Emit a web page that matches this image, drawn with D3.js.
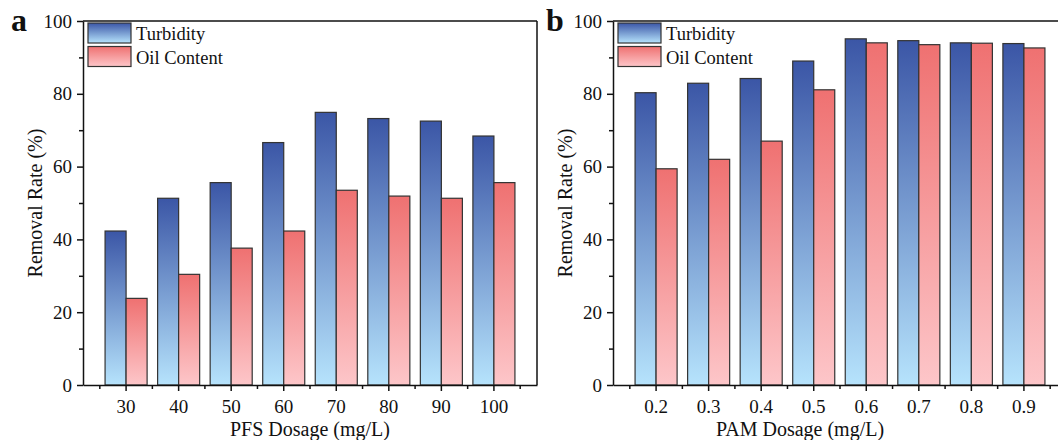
<!DOCTYPE html>
<meta charset="utf-8">
<script src="https://d3js.org/d3.v7.min.js"></script>
<style>
body{margin: 0; background: #fff;}
svg text {font-family: "Liberation Serif", "Times New Roman", serif; fill: #111;}
.tick text {font-size: 19px;}
.axis path, .axis line {stroke: #111; stroke-width: 1.5px;}
.bar {stroke: #333; stroke-width: 1.2px;}
</style>

<div id="vis"></div>

<script>

// Data
const pfsDosage = ["30", "40", "50", "60", "70", "80", "90", "100"];
const pfsTurbidity = [42.3, 51.3, 55.6, 66.6, 74.9, 73.2, 72.5, 68.4];
const pfsOil = [23.8, 30.4, 37.6, 42.3, 53.5, 51.9, 51.3, 55.6];

const pamDosage = ["0.2", "0.3", "0.4", "0.5", "0.6", "0.7", "0.8", "0.9"];
const pamTurbidity = [80.3, 82.9, 84.2, 89.0, 95.1, 94.6, 94.0, 93.8];
const pamOil = [59.4, 62.0, 67.0, 81.1, 94.0, 93.5, 93.9, 92.6];

const yTicks = [0, 20, 40, 60, 80, 100];
const yMinor = [10, 30, 50, 70, 90];
const seriesNames = ["Turbidity", "Oil Content"];

const W = 1058, H = 440;

let svg = d3.select("#vis")
  .append("svg")
  .attr("width", W)
  .attr("height", H);

// gradients (per bar, top dark -> bottom light)
let defs = svg.append("defs");
function grad(id, top, bottom) {
  let g = defs.append("linearGradient")
    .attr("id", id)
    .attr("x1", 0).attr("y1", 0).attr("x2", 0).attr("y2", 1);
  g.append("stop").attr("offset", "0%").attr("stop-color", top);
  g.append("stop").attr("offset", "100%").attr("stop-color", bottom);
}
grad("gBlue", "#3b56a6", "#b6e3fc");
grad("gRed", "#ef7171", "#fdc6c9");
const fills = ["url(#gBlue)", "url(#gRed)"];

function panel(opt) {
  const left = opt.left, top = 21, bottom = 385, width = 454;

  let x = d3.scaleBand()
    .domain(opt.cats)
    .range([left, left + width])
    .paddingInner(0)
    .paddingOuter(0.32);

  let y = d3.scaleLinear()
    .domain([0, 100])
    .range([bottom, top]);

  const bw = x.bandwidth() * 0.4;
  let g = svg.append("g");

  // bars
  [opt.s1, opt.s2].forEach((vals, k) => {
    g.selectAll(".bar-" + opt.id + k)
      .data(opt.cats.map((c, i) => ({c: c, v: vals[i]})))
      .enter().append("rect")
        .attr("class", "bar")
        .attr("x", d => x(d.c) + x.bandwidth() / 2 - bw + k * bw)
        .attr("y", d => y(d.v))
        .attr("width", bw)
        .attr("height", d => bottom - y(d.v))
        .attr("fill", fills[k]);
  });

  // frame top + right
  g.append("line")
    .attr("x1", left).attr("x2", left + width)
    .attr("y1", top).attr("y2", top)
    .attr("stroke", "#111").attr("stroke-width", 1.5);
  g.append("line")
    .attr("x1", left + width).attr("x2", left + width)
    .attr("y1", top).attr("y2", bottom)
    .attr("stroke", "#111").attr("stroke-width", 1.5);

  // x axis
  let xa = g.append("g")
    .attr("class", "axis")
    .attr("transform", "translate(0," + bottom + ")")
    .call(d3.axisBottom(x).tickSize(6).tickSizeOuter(0).tickPadding(9));

  // minor x ticks at group boundaries
  const edges = opt.cats.map(c => x(c)).concat([x(opt.cats[opt.cats.length - 1]) + x.bandwidth()]);
  xa.selectAll(".minor")
    .data(edges)
    .enter().append("line")
      .attr("class", "minor")
      .attr("x1", d => d).attr("x2", d => d)
      .attr("y1", 0).attr("y2", 4);

  // y axis
  g.append("g")
    .attr("class", "axis")
    .attr("transform", "translate(" + left + ",0)")
    .call(d3.axisLeft(y).tickValues(yTicks).tickSize(6).tickSizeOuter(0).tickPadding(5));
  g.append("g")
    .attr("class", "axis")
    .attr("transform", "translate(" + left + ",0)")
    .call(d3.axisLeft(y).tickValues(yMinor).tickSize(4).tickSizeOuter(0).tickFormat(""))
    .select(".domain").remove();

  // axis titles
  g.append("text")
    .attr("x", opt.xTitleX)
    .attr("y", 436)
    .attr("text-anchor", "middle")
    .style("font-size", "20px")
    .text(opt.xTitle);

  g.append("text")
    .attr("transform", "translate(" + (left - 41) + "," + ((top + bottom) / 2) + ") rotate(-90)")
    .attr("text-anchor", "middle")
    .style("font-size", "20px")
    .text("Removal Rate (%)");

  // panel letter
  g.append("text")
    .attr("x", opt.letterX)
    .attr("y", 31)
    .style("font-size", "32px")
    .style("font-weight", "bold")
    .text(opt.letter);

  // legend
  let lg = g.append("g")
    .attr("transform", "translate(" + (left + 5) + "," + (top + 2) + ")");
  seriesNames.forEach((name, k) => {
    lg.append("rect")
      .attr("class", "bar")
      .attr("x", 0).attr("y", k * 23.5)
      .attr("width", 43).attr("height", 20)
      .attr("fill", fills[k]);
    lg.append("text")
      .attr("x", 48).attr("y", k * 23.5 + 17)
      .style("font-size", "18.5px")
      .text(name);
  });
}

panel({id: "a", left: 83, cats: pfsDosage, s1: pfsTurbidity, s2: pfsOil,
       xTitle: "PFS Dosage (mg/L)", xTitleX: 310, letter: "a", letterX: 11});
panel({id: "b", left: 613, cats: pamDosage, s1: pamTurbidity, s2: pamOil,
       xTitle: "PAM Dosage (mg/L)", xTitleX: 800, letter: "b", letterX: 546});

</script>
